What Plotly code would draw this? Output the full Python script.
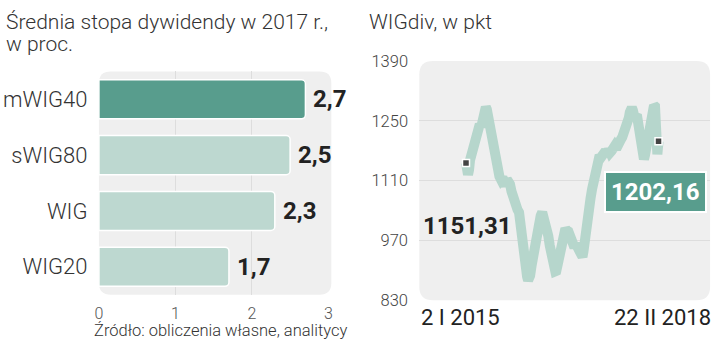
import plotly.graph_objects as go

# ---------------- data ----------------
bar_categories = ["mWIG40", "sWIG80", "WIG", "WIG20"]
bar_values = [2.7, 2.5, 2.3, 1.7]
bar_ticks = [0, 1, 2, 3]

line_dates = [
    "2015-01-02", "2015-01-08", "2015-01-14", "2015-01-20", "2015-01-26", "2015-02-05", "2015-02-18", "2015-02-27",
    "2015-03-08", "2015-03-16", "2015-03-25", "2015-04-03", "2015-04-12", "2015-04-18", "2015-04-24", "2015-04-30",
    "2015-05-06", "2015-05-12", "2015-05-18", "2015-05-27", "2015-06-05", "2015-06-14", "2015-06-23", "2015-07-01",
    "2015-07-10", "2015-07-20", "2015-07-29", "2015-08-07", "2015-08-16", "2015-08-25", "2015-09-03", "2015-09-12",
    "2015-09-21", "2015-09-30", "2015-10-09", "2015-10-18", "2015-10-27", "2015-11-05", "2015-11-14", "2015-11-20",
    "2015-11-26", "2015-12-02", "2015-12-08", "2015-12-17", "2015-12-26", "2016-01-01", "2016-01-07", "2016-01-13",
    "2016-01-19", "2016-01-28", "2016-02-06", "2016-02-15", "2016-02-24", "2016-03-04", "2016-03-13", "2016-03-22",
    "2016-03-31", "2016-04-09", "2016-04-18", "2016-04-27", "2016-05-06", "2016-05-15", "2016-05-24", "2016-06-02",
    "2016-06-11", "2016-06-17", "2016-06-23", "2016-07-02", "2016-07-11", "2016-07-20", "2016-07-29", "2016-08-07",
    "2016-08-16", "2016-08-25", "2016-09-03", "2016-09-12", "2016-09-21", "2016-09-30", "2016-10-09", "2016-10-18",
    "2016-10-27", "2016-11-05", "2016-11-14", "2016-11-20", "2016-11-26", "2016-12-02", "2016-12-08", "2016-12-17",
    "2016-12-26", "2017-01-04", "2017-01-13", "2017-01-22", "2017-01-31", "2017-02-09", "2017-02-18", "2017-02-27",
    "2017-03-08", "2017-03-17", "2017-03-26", "2017-04-04", "2017-04-13", "2017-04-22", "2017-05-01", "2017-05-10",
    "2017-05-19", "2017-05-28", "2017-06-06", "2017-06-15", "2017-06-24", "2017-07-03", "2017-07-12", "2017-07-21",
    "2017-07-30", "2017-08-08", "2017-08-17", "2017-08-23", "2017-08-29", "2017-09-04", "2017-09-10", "2017-09-16",
    "2017-09-22", "2017-09-28", "2017-10-04", "2017-10-10", "2017-10-16", "2017-10-22", "2017-10-28", "2017-11-03",
    "2017-11-09", "2017-11-15", "2017-11-21", "2017-11-27", "2017-12-03", "2017-12-09", "2017-12-15", "2017-12-21",
    "2017-12-27", "2018-01-02", "2018-01-08", "2018-01-14", "2018-01-20", "2018-01-26", "2018-02-01", "2018-02-05",
    "2018-02-08", "2018-02-12", "2018-02-15", "2018-02-19", "2018-02-22",
]
line_values = [
    1151.31, 1140, 1124, 1135, 1158, 1170, 1202, 1196,
    1213, 1222, 1242, 1236, 1257, 1268, 1279, 1282,
    1277, 1262, 1251, 1228, 1202, 1192, 1180, 1160,
    1131, 1120, 1113, 1118, 1107, 1098, 1113, 1108,
    1102, 1085, 1069, 1058, 1047, 1042, 1036, 1010,
    981, 955, 936, 910, 892, 885, 877, 880,
    888, 912, 936, 958, 981, 1000, 1014, 1028,
    1036, 1025, 1014, 995, 981, 958, 936, 915,
    903, 898, 899, 915, 932, 950, 969, 985,
    998, 993, 991, 978, 969, 960, 954, 962,
    958, 948, 941, 935, 932, 945, 958, 990,
    1020, 1045, 1069, 1090, 1109, 1125, 1140, 1155,
    1169, 1165, 1175, 1170, 1180, 1172, 1184, 1176,
    1180, 1188, 1191, 1185, 1197, 1200, 1206, 1212,
    1220, 1228, 1235, 1248, 1257, 1270, 1279, 1281,
    1275, 1265, 1257, 1262, 1264, 1250, 1235, 1212,
    1191, 1172, 1162, 1160, 1169, 1185, 1202, 1220,
    1235, 1246, 1257, 1268, 1279, 1286, 1284, 1266,
    1246, 1210, 1172, 1195, 1202.16,
]
line_ticks = [830, 970, 1110, 1250, 1390]
start_label = "2 I 2015"
end_label = "22 II 2018"

# ---------------- style ----------------
W, H = 720, 351
FONT = "Roboto"
DARK = "#589d8d"
LIGHT = "#bdd8d0"
LINE = "#b6d6cc"
BG = "#efefef"


def fmt(v, nd):
    return f"{v:.{nd}f}".replace(".", ",")


def rrect(x0, y0, x1, y1, r):
    """rounded rectangle path in paper coordinates from pixel box"""
    def px(x):
        return x / W

    def py(y):
        return 1 - y / H
    return (
        f"M {px(x0 + r)},{py(y0)} L {px(x1 - r)},{py(y0)} Q {px(x1)},{py(y0)} {px(x1)},{py(y0 + r)} "
        f"L {px(x1)},{py(y1 - r)} Q {px(x1)},{py(y1)} {px(x1 - r)},{py(y1)} "
        f"L {px(x0 + r)},{py(y1)} Q {px(x0)},{py(y1)} {px(x0)},{py(y1 - r)} "
        f"L {px(x0)},{py(y0 + r)} Q {px(x0)},{py(y0)} {px(x0 + r)},{py(y0)} Z"
    )


fig = go.Figure()

# left: bars
fig.add_trace(go.Bar(
    x=bar_values, y=bar_categories, orientation="h",
    marker=dict(color=[DARK] + [LIGHT] * (len(bar_values) - 1),
                line=dict(color="white", width=1.5), cornerradius=4),
    width=0.7, xaxis="x", yaxis="y", hoverinfo="skip",
))

# right: line
fig.add_trace(go.Scatter(
    x=line_dates, y=line_values, mode="lines",
    line=dict(color=LINE, width=10), xaxis="x2", yaxis="y2", hoverinfo="skip",
))
fig.add_trace(go.Scatter(
    x=[line_dates[0], line_dates[-1]], y=[line_values[0], line_values[-1]], mode="markers",
    marker=dict(symbol="square", size=7, color="#444444", line=dict(color="white", width=1.5)),
    xaxis="x2", yaxis="y2", hoverinfo="skip",
))

annotations = []
for c, v in zip(bar_categories, bar_values):
    annotations.append(dict(
        x=v, y=c, xref="x", yref="y", text=fmt(v, 1), showarrow=False,
        xanchor="left", yanchor="middle", xshift=6,
        font=dict(family=FONT, size=24, color="#222222", weight=700),
    ))

title_font = dict(family=FONT, size=21, color="#333333", weight=300)
annotations += [
    dict(x=0, y=1 - 14 / H, xref="paper", yref="paper", xanchor="left", yanchor="middle",
         text="Średnia stopa dywidendy w 2017 r.,", showarrow=False, font=title_font),
    dict(x=0, y=1 - 37 / H, xref="paper", yref="paper", xanchor="left", yanchor="middle",
         text="w proc.", showarrow=False, font=title_font),
    dict(x=367 / W, y=1 - 14 / H, xref="paper", yref="paper", xanchor="left", yanchor="middle",
         text="WIGdiv, w pkt", showarrow=False, font=title_font),
    dict(x=89 / W, y=1 - 340 / H, xref="paper", yref="paper", xanchor="left", yanchor="middle",
         text="Źródło: obliczenia własne, analitycy", showarrow=False,
         font=dict(family=FONT, size=16.5, color="#333333", weight=300)),
    dict(x=0, y=1 - 326 / H, xref="x2 domain", yref="paper", xanchor="left", yanchor="middle",
         text=start_label, showarrow=False, xshift=0,
         font=dict(family=FONT, size=22, color="#222222")),
    dict(x=1, y=1 - 326 / H, xref="x2 domain", yref="paper", xanchor="right", yanchor="middle",
         text=end_label, showarrow=False, xshift=3,
         font=dict(family=FONT, size=22, color="#222222")),
    dict(x=422 / W, y=1 - 229 / H, xref="paper", yref="paper", xanchor="left", yanchor="middle",
         text=fmt(line_values[0], 2), showarrow=False,
         font=dict(family=FONT, size=24, color="#222222", weight=700)),
    dict(x=659 / W, y=1 - 194 / H, xref="paper", yref="paper", xanchor="center", yanchor="middle",
         text=fmt(line_values[-1], 2), showarrow=False, bgcolor=DARK, bordercolor="white",
         borderwidth=2, borderpad=5,
         font=dict(family=FONT, size=24, color="white", weight=700)),
]

shapes = [
    dict(type="path", path=rrect(96, 66, 331, 302, 12), xref="paper", yref="paper",
         fillcolor=BG, line=dict(width=0), layer="below"),
    dict(type="path", path=rrect(420, 55, 714, 308, 14), xref="paper", yref="paper",
         fillcolor=BG, line=dict(width=0), layer="below"),
]

fig.update_layout(
    width=W, height=H, margin=dict(l=0, r=0, t=0, b=0),
    paper_bgcolor="white", plot_bgcolor="rgba(0,0,0,0)",
    showlegend=False, annotations=annotations, shapes=shapes,
    xaxis=dict(domain=[96 / W, 328 / W], range=[0, 3], tickvals=bar_ticks,
               showgrid=True, gridcolor="#dddddd", gridwidth=1, zeroline=False,
               showline=False, ticks="outside", ticklen=4, tickcolor="rgba(0,0,0,0)",
               tickfont=dict(family=FONT, size=16, color="#555555", weight=300), anchor="y"),
    yaxis=dict(domain=[1 - 302 / H, 1 - 66 / H], autorange="reversed", showgrid=False,
               zeroline=False, showline=False, ticks="outside", ticklen=6,
               tickcolor="rgba(0,0,0,0)",
               tickfont=dict(family=FONT, size=22, color="#333333", weight=300), anchor="x"),
    xaxis2=dict(domain=[420 / W, 714 / W], range=["2014-03-30", "2018-12-26"],
                showticklabels=False, showgrid=False, zeroline=False, showline=False, anchor="y2"),
    yaxis2=dict(domain=[1 - 308 / H, 1 - 55 / H], range=[830, 1390], tickvals=line_ticks,
                showgrid=True, gridcolor="#dddddd", gridwidth=1, zeroline=False, showline=False,
                ticks="outside", ticklen=7, tickcolor="rgba(0,0,0,0)",
                tickfont=dict(family=FONT, size=16.5, color="#444444", weight=300), anchor="x2"),
)

fig.write_html("out.html")
